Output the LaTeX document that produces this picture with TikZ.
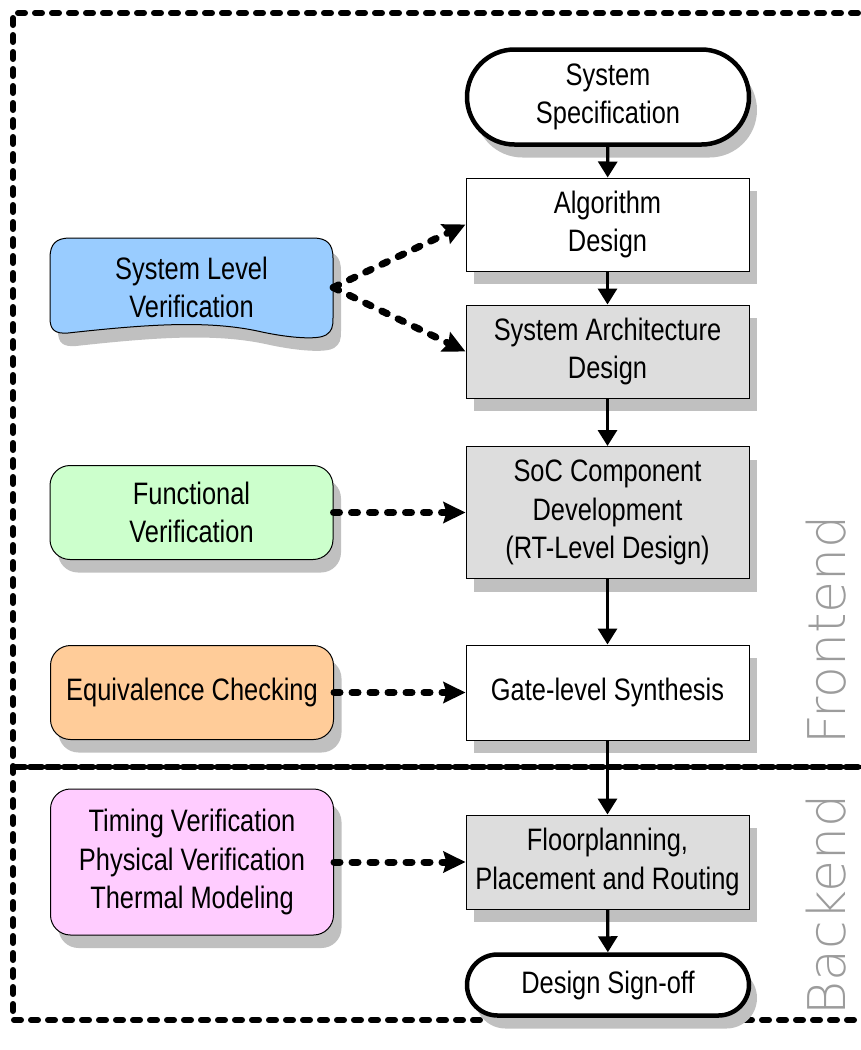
\documentclass[tikz,border=0pt]{standalone}
\usepackage{fontspec}
\setmainfont{Liberation Sans}[FakeStretch=0.82]
\newfontfamily\sidefont{DejaVuSans-ExtraLight}[Extension=.ttf]
\usepackage{tikz}
\usetikzlibrary{arrows.meta,shapes.misc,shadows}

\definecolor{sysblue}{HTML}{99CCFF}
\definecolor{funcgreen}{HTML}{CCFFCC}
\definecolor{eqorange}{HTML}{FFCC99}
\definecolor{timepink}{HTML}{FFCCFF}
\definecolor{stepgray}{HTML}{DDDDDD}
\definecolor{shadegray}{HTML}{C0C0C0}
\definecolor{sidegray}{HTML}{9C9C9C}

\begin{document}
\begin{tikzpicture}[x=1pt,y=-1pt,
  font=\fontsize{31}{38.5}\selectfont,
  boxshadow/.style={drop shadow={shadow xshift=8pt,shadow yshift=-13pt,fill=shadegray,opacity=1}},
  terminal/.style={rounded rectangle,draw,line width=4.5pt,fill=white,minimum width=282pt,inner sep=0pt,align=center,boxshadow},
  proc/.style={rectangle,draw,line width=1pt,fill=white,minimum width=283pt,inner sep=0pt,align=center,boxshadow},
  gproc/.style={proc,fill=stepgray},
  verif/.style={rectangle,rounded corners=20pt,draw,line width=1pt,minimum width=283pt,minimum height=94pt,inner sep=0pt,align=center,boxshadow},
  flow/.style={-{Triangle[length=16pt,width=19pt]},line width=3.3pt},
  verarrow/.style={-{Stealth[length=22pt,width=21pt,inset=3pt]},line width=7pt,dash pattern=on 6pt off 12pt,line cap=round},
  stageframe/.style={line width=6pt,line cap=round}]
\useasboundingbox (0,0) rectangle (861,1050);
% stage borders
\draw[stageframe,dash pattern=on 7pt off 10pt] (875,13) -- (13,13) -- (13,1020) -- (875,1020);
\draw[stageframe,dash pattern=on 12pt off 5pt] (13,767) -- (875,767);
\node[rotate=90,text=sidegray,font=\sidefont\fontsize{52}{54}\selectfont] (front) at (826,630) {Frontend};
\node[rotate=90,text=sidegray,font=\sidefont\fontsize{52}{54}\selectfont] (back) at (826,905) {Backend};
% design flow
\node[terminal,minimum height=95pt] (spec) at (608,97) {System\\Specification};
\node[proc,minimum height=93pt] (algo) at (607.5,224.5) {Algorithm\\Design};
\node[gproc,minimum height=93pt] (arch) at (607.5,351.5) {System Architecture\\Design};
\node[gproc,minimum height=132pt] (soc) at (607.5,512.5) {SoC Component\\Development\\(RT-Level Design)};
\node[proc,minimum height=95pt] (gate) at (607.5,692.5) {Gate-level Synthesis};
\node[gproc,minimum height=94pt] (floor) at (607.5,862) {Floorplanning,\\Placement and Routing};
\node[terminal,minimum height=61pt] (signoff) at (608,985) {Design Sign-off};
% verification steps
\filldraw[fill=sysblue,line width=1pt,boxshadow] (50,258) -- (50,318)
  .. controls (50,330) and (55,334) .. (68,333)
  .. controls (150,324) and (210,320) .. (262,332)
  .. controls (290,338) and (318,340) .. (326,335)
  .. controls (332,331) and (333,327) .. (333,318)
  -- (333,258) .. controls (333,244) and (327,238) .. (313,238)
  -- (70,238) .. controls (56,238) and (50,244) .. (50,258) -- cycle;
\node[minimum width=283pt,minimum height=99pt,inner sep=0pt,align=center] (sysver) at (191.5,287.5) {System Level\\Verification};
\node[verif,fill=funcgreen] (func) at (191.5,512.5) {Functional\\Verification};
\node[verif,fill=eqorange] (equiv) at (192,692.5) {Equivalence Checking};
\node[verif,fill=timepink,minimum height=146pt] (timing) at (192,862) {Timing Verification\\Physical Verification\\Thermal Modeling};
% arrows
\foreach \a/\b in {spec/algo,algo/arch,arch/soc,soc/gate,gate/floor,floor/signoff}
  \draw[flow] (\a) -- (\b);
\draw[verarrow] (sysver.east) -- (algo.west);
\draw[verarrow] (sysver.east) -- (arch.west);
\foreach \a/\b in {func/soc,equiv/gate,timing/floor}
  \draw[verarrow] (\a.east) -- (\b.west);
\end{tikzpicture}
\end{document}
